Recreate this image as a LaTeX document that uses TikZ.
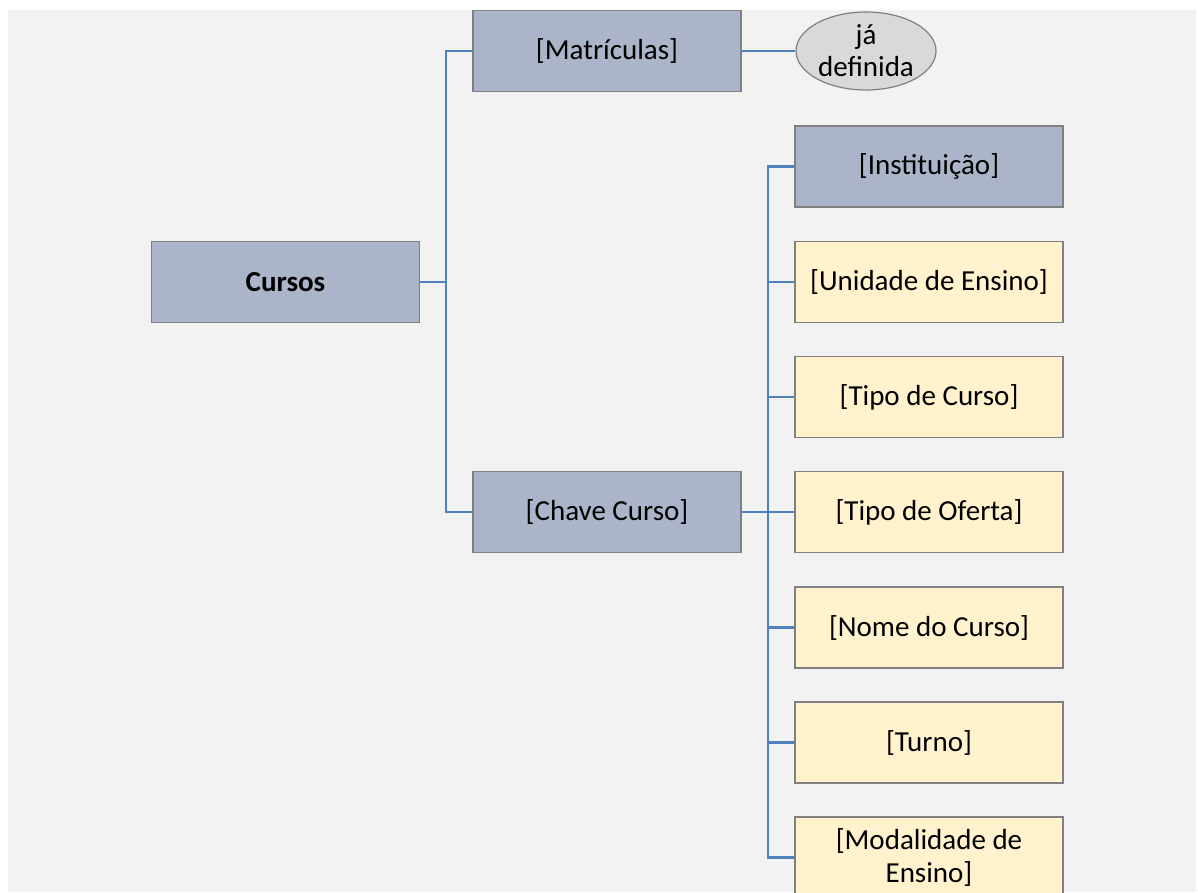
\documentclass[tikz,border=0pt]{standalone}
\usepackage{fontspec}
\setmainfont{Carlito}
\usetikzlibrary{shapes.geometric}

\definecolor{chavefill}{RGB}{171,180,200}
\definecolor{attrfill}{RGB}{255,242,204}
\definecolor{elipfill}{RGB}{217,217,217}
\definecolor{linkblue}{RGB}{79,129,189}
\definecolor{bordergray}{RGB}{128,128,128}
\definecolor{fundo}{RGB}{242,242,242}

\tikzset{
	caixa/.style={draw=bordergray,line width=1.2pt,minimum width=268pt,minimum height=81pt,inner sep=0,align=center,font=\fontsize{29}{33}\selectfont},
	chave/.style={caixa,fill=chavefill},
	atributo/.style={caixa,fill=attrfill},
	nota/.style={draw=bordergray,line width=1.2pt,ellipse,fill=elipfill,minimum width=140pt,minimum height=78pt,inner sep=0,align=center,font=\fontsize{29}{32}\selectfont},
	ligacao/.style={draw=linkblue,line width=2.8pt}
}

\begin{document}
\begin{tikzpicture}[x=1pt,y=-1pt]
	\useasboundingbox (0,0) rectangle (1198,892);
	\fill[fundo] (8,10) rectangle (1196,892);
	\node[chave,font=\fontsize{29}{33}\selectfont\bfseries] (cursos) at (285.5,282) {Cursos};
	\node[chave] (matriculas) at (607,51) {[Matrículas]};
	\node[nota] (definida) at (866,51) {já\\definida};
	\node[chave] (chavecurso) at (607,512) {[Chave Curso]};
	\node[chave] (instituicao) at (929,166.5) {[Instituição]};
	\node[atributo] (unidade) at (929,282) {[Unidade de Ensino]};
	\node[atributo] (tipocurso) at (929,397) {[Tipo de Curso]};
	\node[atributo] (tipooferta) at (929,512) {[Tipo de Oferta]};
	\node[atributo] (nomecurso) at (929,627.5) {[Nome do Curso]};
	\node[atributo] (turno) at (929,742.5) {[Turno]};
	\node[atributo] (modalidade) at (929,857.5) {[Modalidade de\\Ensino]};
	\coordinate (j1) at (446,282);
	\coordinate (j2) at (768,512);
	\draw[ligacao] (cursos.east) -- (j1) |- (matriculas.west);
	\draw[ligacao] (j1) |- (chavecurso.west);
	\draw[ligacao] (matriculas.east) -- (definida.west);
	\draw[ligacao] (chavecurso.east) -- (j2);
	\foreach \filho in {instituicao,unidade,tipocurso,tipooferta,nomecurso,turno,modalidade}
		\draw[ligacao] (j2) |- (\filho.west);
\end{tikzpicture}
\end{document}
